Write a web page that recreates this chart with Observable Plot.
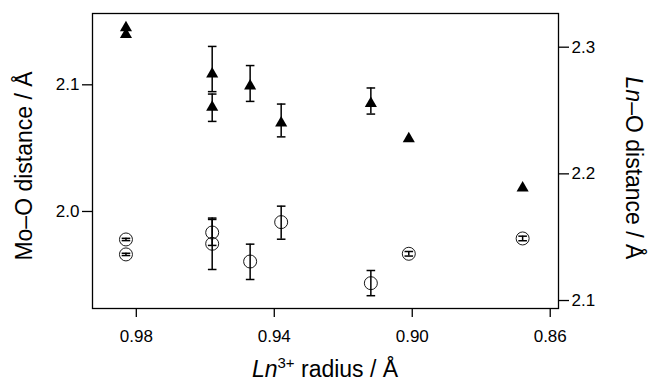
<!DOCTYPE html>
<html>
<head>
<meta charset="utf-8">
<script src="https://cdn.jsdelivr.net/npm/d3@7"></script>
<script src="https://cdn.jsdelivr.net/npm/@observablehq/plot@0.6"></script>
<style>
  html, body { margin: 0; padding: 0; background: #fff; }
</style>
</head>
<body>
<div id="chart"></div>
<script>
// Ln3+ ionic radius (Å) per sample
const ions    = ["Nd", "Nd", "Sm", "Sm", "Eu", "Gd", "Dy", "Ho", "Yb"];
const radius  = [0.983, 0.983, 0.958, 0.958, 0.947, 0.938, 0.912, 0.901, 0.868];

// Mo–O distance (Å), left axis, open circles, with error-bar limits
const moO     = [1.9779, 1.9661, 1.9834, 1.9745, 1.9605, 1.9916, 1.9434, 1.9666, 1.9787];
const moOlo   = [1.9770, 1.9652, 1.9732, 1.9542, 1.9463, 1.9781, 1.9335, 1.9648, 1.9769];
const moOhi   = [1.9788, 1.9670, 1.9937, 1.9948, 1.9742, 2.0042, 1.9534, 1.9684, 1.9805];

// Ln–O distance (Å), right axis, filled triangles, with error-bar limits (null = not visible)
const lnO     = [2.3154, 2.3101, 2.2788, 2.2526, 2.2694, 2.2401, 2.2555, 2.2277, 2.1888];
const lnOlo   = [null, null, 2.2649, 2.2414, 2.2572, 2.2292, 2.2472, null, null];
const lnOhi   = [null, null, 2.3006, 2.2630, 2.2855, 2.2551, 2.2678, null, null];

// axis ticks
const xTicks      = [0.98, 0.94, 0.90, 0.86];
const yLeftTicks  = [2.0, 2.1];
const yRightTicks = [2.1, 2.2, 2.3];

// axis domains
const xDomain      = [0.9927, 0.8576];
const yLeftDomain  = [1.9234, 2.1563];
const yRightOffset = 0.1703; // right axis value minus left axis value at same height

const toLeft = v => v - yRightOffset;
const fromLeft = v => v + yRightOffset;

const rows = ions.map((ion, i) => ({
  ion, r: radius[i],
  mo: moO[i], moLo: moOlo[i], moHi: moOhi[i],
  ln: toLeft(lnO[i]),
  lnLo: lnOlo[i] == null ? null : toLeft(lnOlo[i]),
  lnHi: lnOhi[i] == null ? null : toLeft(lnOhi[i])
}));
const lnErr = rows.filter(d => d.lnLo != null);

const capSymbol = {
  draw(context) { context.moveTo(-4.3, 0); context.lineTo(4.3, 0); }
};

const fmt1 = d3.format(".1f");
const fmt2 = d3.format(".2f");

const svg = Plot.plot({
  width: 650,
  height: 386,
  marginTop: 13,
  marginBottom: 78,
  marginLeft: 92,
  marginRight: 92,
  style: { fontFamily: "'Liberation Sans', Arial, Helvetica, sans-serif", fontSize: "17px", background: "#fff", color: "#000", overflow: "visible" },
  x: { domain: xDomain },
  y: { domain: yLeftDomain },
  marks: [
    Plot.frame({ stroke: "#000", strokeWidth: 1.3 }),
    Plot.axisX({ ticks: xTicks, tickFormat: fmt2, tickSize: 9, tickPadding: 12, label: null, fontSize: 17, strokeWidth: 1.3 }),
    Plot.axisY({ anchor: "left", ticks: yLeftTicks, tickFormat: fmt1, tickSize: 10, tickPadding: 3, label: null, fontSize: 17, strokeWidth: 1.3 }),
    Plot.axisY({ anchor: "right", ticks: yRightTicks.map(toLeft), tickFormat: d => fmt1(fromLeft(d)), tickSize: 10, tickPadding: 3, label: null, fontSize: 17, strokeWidth: 1.3 }),

    // Mo–O error bars
    Plot.ruleX(rows, { x: "r", y1: "moLo", y2: "moHi", stroke: "#000", strokeWidth: 1.5 }),
    Plot.dot(rows, { x: "r", y: "moLo", symbol: capSymbol, stroke: "#000", strokeWidth: 1.5, fill: "none" }),
    Plot.dot(rows, { x: "r", y: "moHi", symbol: capSymbol, stroke: "#000", strokeWidth: 1.5, fill: "none" }),
    Plot.dot(rows, { x: "r", y: "mo", r: 6.5, stroke: "#000", strokeWidth: 0.9, fill: "none" }),

    // Ln–O error bars
    Plot.ruleX(lnErr, { x: "r", y1: "lnLo", y2: "lnHi", stroke: "#000", strokeWidth: 1.5 }),
    Plot.dot(lnErr, { x: "r", y: "lnLo", symbol: capSymbol, stroke: "#000", strokeWidth: 1.5, fill: "none" }),
    Plot.dot(lnErr, { x: "r", y: "lnHi", symbol: capSymbol, stroke: "#000", strokeWidth: 1.5, fill: "none" }),
    Plot.dot(rows, { x: "r", y: "ln", symbol: "triangle", r: 4.5, fill: "#000", stroke: "none" })
  ]
});

const s = d3.select(svg);
const titleFont = "'Liberation Sans', Arial, Helvetica, sans-serif";

// left axis title
s.append("text")
  .attr("transform", "translate(32,166) rotate(-90)")
  .attr("text-anchor", "middle")
  .attr("font-family", titleFont)
  .attr("font-size", 23)
  .attr("fill", "#000")
  .text("Mo–O distance / Å");

// right axis title
const rt = s.append("text")
  .attr("transform", "translate(626,168) rotate(90)")
  .attr("text-anchor", "middle")
  .attr("font-family", titleFont)
  .attr("font-size", 23)
  .attr("fill", "#000");
rt.append("tspan").attr("font-style", "italic").text("Ln");
rt.append("tspan").text("–O distance / Å");

// bottom axis title
const bt = s.append("text")
  .attr("x", 325)
  .attr("y", 377)
  .attr("text-anchor", "middle")
  .attr("font-family", titleFont)
  .attr("font-size", 23)
  .attr("fill", "#000");
bt.append("tspan").attr("font-style", "italic").text("Ln");
bt.append("tspan").attr("font-size", 15).attr("dy", -9).text("3+");
bt.append("tspan").attr("dy", 9).text(" radius / Å");

document.getElementById("chart").appendChild(svg);
</script>
</body>
</html>
